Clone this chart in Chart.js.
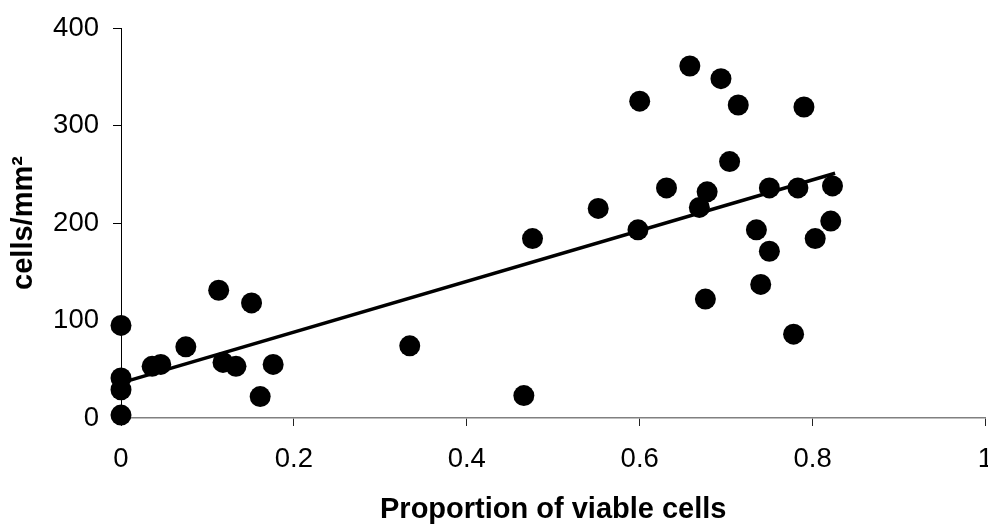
<!DOCTYPE html>
<html>
<head>
<meta charset="utf-8">
<script src="https://cdn.jsdelivr.net/npm/chart.js@4.4.0/dist/chart.umd.min.js"></script>
<style>
    html, body { margin: 0; padding: 0; background: #fff; overflow: hidden; }
    #contenedor { width: 996px; height: 524px; position: relative; }
</style>
</head>
<body>
<div id="contenedor"><canvas id="graficaViables"></canvas></div>
<script>
const proporcion = [0, 0, 0, 0, 0.036, 0.046, 0.075, 0.113, 0.118, 0.133, 0.151, 0.161, 0.176,
    0.334, 0.466, 0.476, 0.552, 0.600, 0.598, 0.631, 0.658, 0.694, 0.714, 0.790, 0.704,
    0.678, 0.669, 0.750, 0.783, 0.823, 0.735, 0.750, 0.821, 0.803, 0.740, 0.676, 0.778];
const celulas = [95, 41, 29, 3, 53, 55, 73, 131, 57, 53, 118, 22, 55,
    74, 23, 184, 215, 325, 193, 236, 361, 348, 321, 319, 263,
    232, 216, 236, 236, 238, 193, 171, 202, 184, 137, 122, 86];
const tendenciaX = [0, 0.826];
const tendenciaY = [36, 251];
const ticksX = [0, 0.2, 0.4, 0.6, 0.8, 1];
const ticksY = [0, 100, 200, 300, 400];

const fuente = "'Liberation Sans', Arial, sans-serif";
let grafica = null;

function generarGrafico() {
    const ctx = document.getElementById("graficaViables");
    let puntos = proporcion.map((x, i) => ({ x: x, y: celulas[i] }));
    let linea = tendenciaX.map((x, i) => ({ x: x, y: tendenciaY[i] }));

    if (grafica != null) {
        grafica.destroy();
    }
    grafica = new Chart(ctx, {
        type: "scatter",
        data: {
            datasets: [
                {
                    label: "cells/mm²",
                    data: puntos,
                    pointRadius: 10.5,
                    pointHoverRadius: 10.5,
                    pointBorderWidth: 0,
                    backgroundColor: "#000",
                    borderColor: "#000",
                    clip: false,
                },
                {
                    label: "tendencia",
                    data: linea,
                    showLine: true,
                    pointRadius: 0,
                    borderWidth: 3.5,
                    borderColor: "#000",
                    clip: false,
                },
            ],
        },
        options: {
            responsive: true,
            maintainAspectRatio: false,
            animation: false,
            layout: {
                padding: { top: 28, right: 0, bottom: 0, left: 0 },
            },
            plugins: {
                legend: { display: false },
                tooltip: { enabled: false },
            },
            scales: {
                x: {
                    type: "linear",
                    min: 0,
                    max: 1,
                    afterBuildTicks: (eje) => {
                        eje.ticks = ticksX.map((v) => ({ value: v }));
                    },
                    afterFit: (eje) => {
                        eje.height = 106;
                        eje.paddingLeft = 0;
                        eje.paddingRight = 0;
                    },
                    border: { display: true, color: "#808080", width: 1.5 },
                    grid: {
                        drawOnChartArea: false,
                        drawTicks: true,
                        tickLength: 8,
                        color: "#222",
                    },
                    ticks: {
                        padding: 17,
                        color: "#000",
                        font: { family: fuente, size: 27.5 },
                        callback: (v) => String(v),
                    },
                    title: {
                        display: true,
                        text: "Proportion of viable cells",
                        color: "#000",
                        padding: { top: 0, bottom: 0 },
                        font: { family: fuente, size: 29, weight: "bold", lineHeight: 1 },
                    },
                },
                y: {
                    type: "linear",
                    min: 0,
                    max: 400,
                    afterBuildTicks: (eje) => {
                        eje.ticks = ticksY.map((v) => ({ value: v }));
                    },
                    afterFit: (eje) => {
                        eje.width = 121;
                        eje.paddingTop = 0;
                        eje.paddingBottom = 0;
                    },
                    border: { display: true, color: "#000", width: 1 },
                    grid: {
                        drawOnChartArea: false,
                        drawTicks: true,
                        tickLength: 8,
                        color: "#000",
                    },
                    ticks: {
                        padding: 14,
                        color: "#000",
                        font: { family: fuente, size: 27.5 },
                    },
                    title: {
                        display: true,
                        text: "cells/mm²",
                        color: "#000",
                        padding: { top: 7, bottom: 0 },
                        font: { family: fuente, size: 29, weight: "bold" },
                    },
                },
            },
        },
    });
}

generarGrafico();
</script>
</body>
</html>
